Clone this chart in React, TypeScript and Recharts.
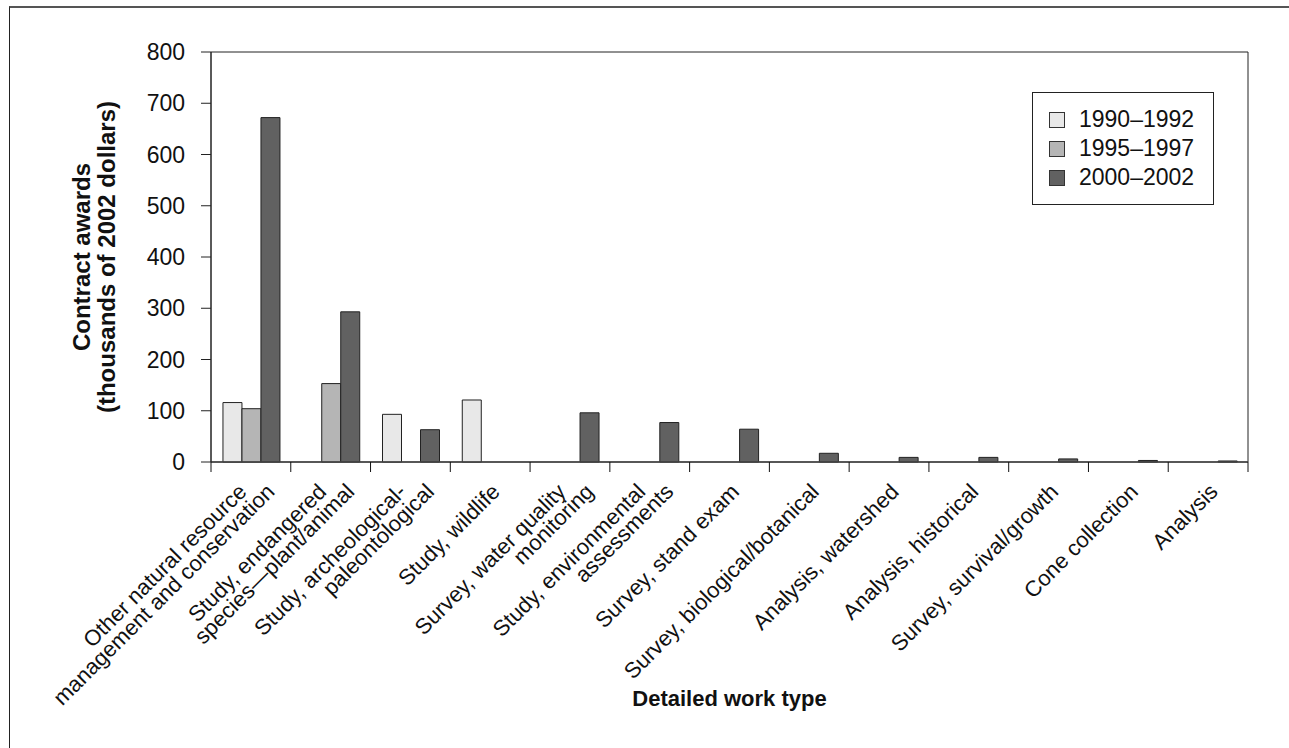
import React from 'react';
import { BarChart, Bar, XAxis, YAxis, Legend, ReferenceArea, Label } from 'recharts';

// detailed work types (\n = line break in the axis label)
const categories = [
  'Other natural resource\nmanagement and conservation',
  'Study, endangered\nspecies\u2014plant/animal',
  'Study, archeological-\npaleontological',
  'Study, wildlife',
  'Survey, water quality\nmonitoring',
  'Study, environmental\nassessments',
  'Survey, stand exam',
  'Survey, biological/botanical',
  'Analysis, watershed',
  'Analysis, historical',
  'Survey, survival/growth',
  'Cone collection',
  'Analysis',
];

// contract awards, thousands of 2002 dollars (null = no bar)
const awards1990 = [116, null, 93, 121, null, null, null, null, null, null, null, null, null];
const awards1995 = [104, 153, null, null, null, null, null, null, null, null, null, null, null];
const awards2000 = [672, 293, 63, null, 96, 77, 64, 17, 9, 9, 6, 3, 2];

const periods = ['1990\u20131992', '1995\u20131997', '2000\u20132002'];
const periodColors = ['#e8e8e8', '#b5b5b5', '#616161'];
const yTicks = [0, 100, 200, 300, 400, 500, 600, 700, 800];

const data = categories.map((name, i) => ({
  name,
  p1990: awards1990[i],
  p1995: awards1995[i],
  p2000: awards2000[i],
}));

const FONT = '"Liberation Sans", Arial, Helvetica, sans-serif';
const FS = 23;
const XFS = 22;
const TITLE_FS = 24;

function XTick(props: any) {
  const { x, y, payload, index } = props;
  const half = payload && payload.offset ? payload.offset : 1037 / categories.length / 2;
  const lines = String(payload.value).split('\n');
  const n = lines.length;
  return (
    <g>
      <line x1={x - half} x2={x - half} y1={y} y2={y + 10} stroke="#111" strokeWidth={1} />
      {index === categories.length - 1 && (
        <line x1={x + half} x2={x + half} y1={y} y2={y + 10} stroke="#111" strokeWidth={1} />
      )}
      {lines.map((l, i) => {
        const ax = x + 11 + (i - (n - 1) / 2) * 28;
        const ay = y + 31;
        return (
          <text
            key={i}
            transform={`translate(${ax},${ay}) rotate(-45)`}
            textAnchor="end"
            fontSize={XFS}
            fontFamily={FONT}
            fill="#111"
          >
            {l}
          </text>
        );
      })}
    </g>
  );
}

function LegendBox() {
  return (
    <div
      style={{
        border: '1.5px solid #222',
        background: '#fff',
        width: 182,
        padding: '12px 0 12px 0',
        fontFamily: FONT,
        fontSize: FS,
        color: '#111',
        boxSizing: 'border-box',
        textAlign: 'left',
      }}
    >
      {periods.map((p, i) => (
        <div key={p} style={{ display: 'flex', alignItems: 'center', height: 29 }}>
          <span
            style={{
              display: 'inline-block',
              width: 16,
              height: 16,
              marginLeft: 16,
              marginRight: 14,
              background: periodColors[i],
              border: '1px solid #333',
              boxSizing: 'border-box',
            }}
          />
          <span>{p}</span>
        </div>
      ))}
    </div>
  );
}

function YTitle(props: any) {
  const vb = props.viewBox || { x: 0, y: 52, width: 211, height: 410 };
  const cy = vb.y + vb.height / 2;
  return (
    <g transform={`translate(0,${cy}) rotate(-90)`}>
      <text x={0} y={81} textAnchor="middle" dominantBaseline="central" fontSize={TITLE_FS} fontWeight="bold" fontFamily={FONT} fill="#111">
        Contract awards
      </text>
      <text x={0} y={106} textAnchor="middle" dominantBaseline="central" fontSize={TITLE_FS} fontWeight="bold" fontFamily={FONT} fill="#111">
        (thousands of 2002 dollars)
      </text>
    </g>
  );
}

function XTitle(props: any) {
  const vb = props.viewBox || { x: 211, width: 1037 };
  return (
    <text x={vb.x + vb.width / 2} y={706} textAnchor="middle" fontSize={XFS} fontWeight="bold" fontFamily={FONT} fill="#111">
      Detailed work type
    </text>
  );
}

export default function App() {
  return (
    <div style={{ position: 'fixed', left: 0, top: 0, width: 1289, height: 748, overflow: 'hidden', background: '#fff' }}>
      <div
        style={{
          position: 'absolute',
          left: 9,
          top: 6,
          width: 1400,
          height: 900,
          borderTop: '2px solid #555',
          borderLeft: '1px solid #222',
        }}
      />
      <BarChart
        width={1289}
        height={748}
        data={data}
        margin={{ top: 52, right: 41, bottom: 0, left: 0 }}
        barCategoryGap="15%"
        barGap={0}
        style={{ position: 'absolute', left: 0, top: 0 }}
      >
        <ReferenceArea y1={0} y2={800} fill="none" stroke="#222" strokeWidth={1} fillOpacity={0} />
        <XAxis
          dataKey="name"
          height={286}
          interval={0}
          tickLine={false}
          tickSize={0}
          tickMargin={0}
          axisLine={{ stroke: '#444', strokeWidth: 1.5 }}
          tick={<XTick />}
        >
          <Label content={<XTitle />} />
        </XAxis>
        <YAxis
          width={211}
          domain={[0, 800]}
          ticks={yTicks}
          interval={0}
          tickSize={10}
          tickMargin={16}
          axisLine={{ stroke: '#222' }}
          tickLine={{ stroke: '#222' }}
          tick={{ fontSize: FS, fontFamily: FONT, fill: '#111' }}
        >
          <Label content={<YTitle />} />
        </YAxis>
        <Legend
          layout="vertical"
          verticalAlign="middle"
          align="center"
          content={<LegendBox />}
          wrapperStyle={{ left: 1032, top: 92, width: 182 }}
        />
        <Bar dataKey="p1990" name={periods[0]} fill={periodColors[0]} stroke="#222" strokeWidth={1} isAnimationActive={false} />
        <Bar dataKey="p1995" name={periods[1]} fill={periodColors[1]} stroke="#222" strokeWidth={1} isAnimationActive={false} />
        <Bar dataKey="p2000" name={periods[2]} fill={periodColors[2]} stroke="#222" strokeWidth={1} isAnimationActive={false} />
      </BarChart>
    </div>
  );
}
